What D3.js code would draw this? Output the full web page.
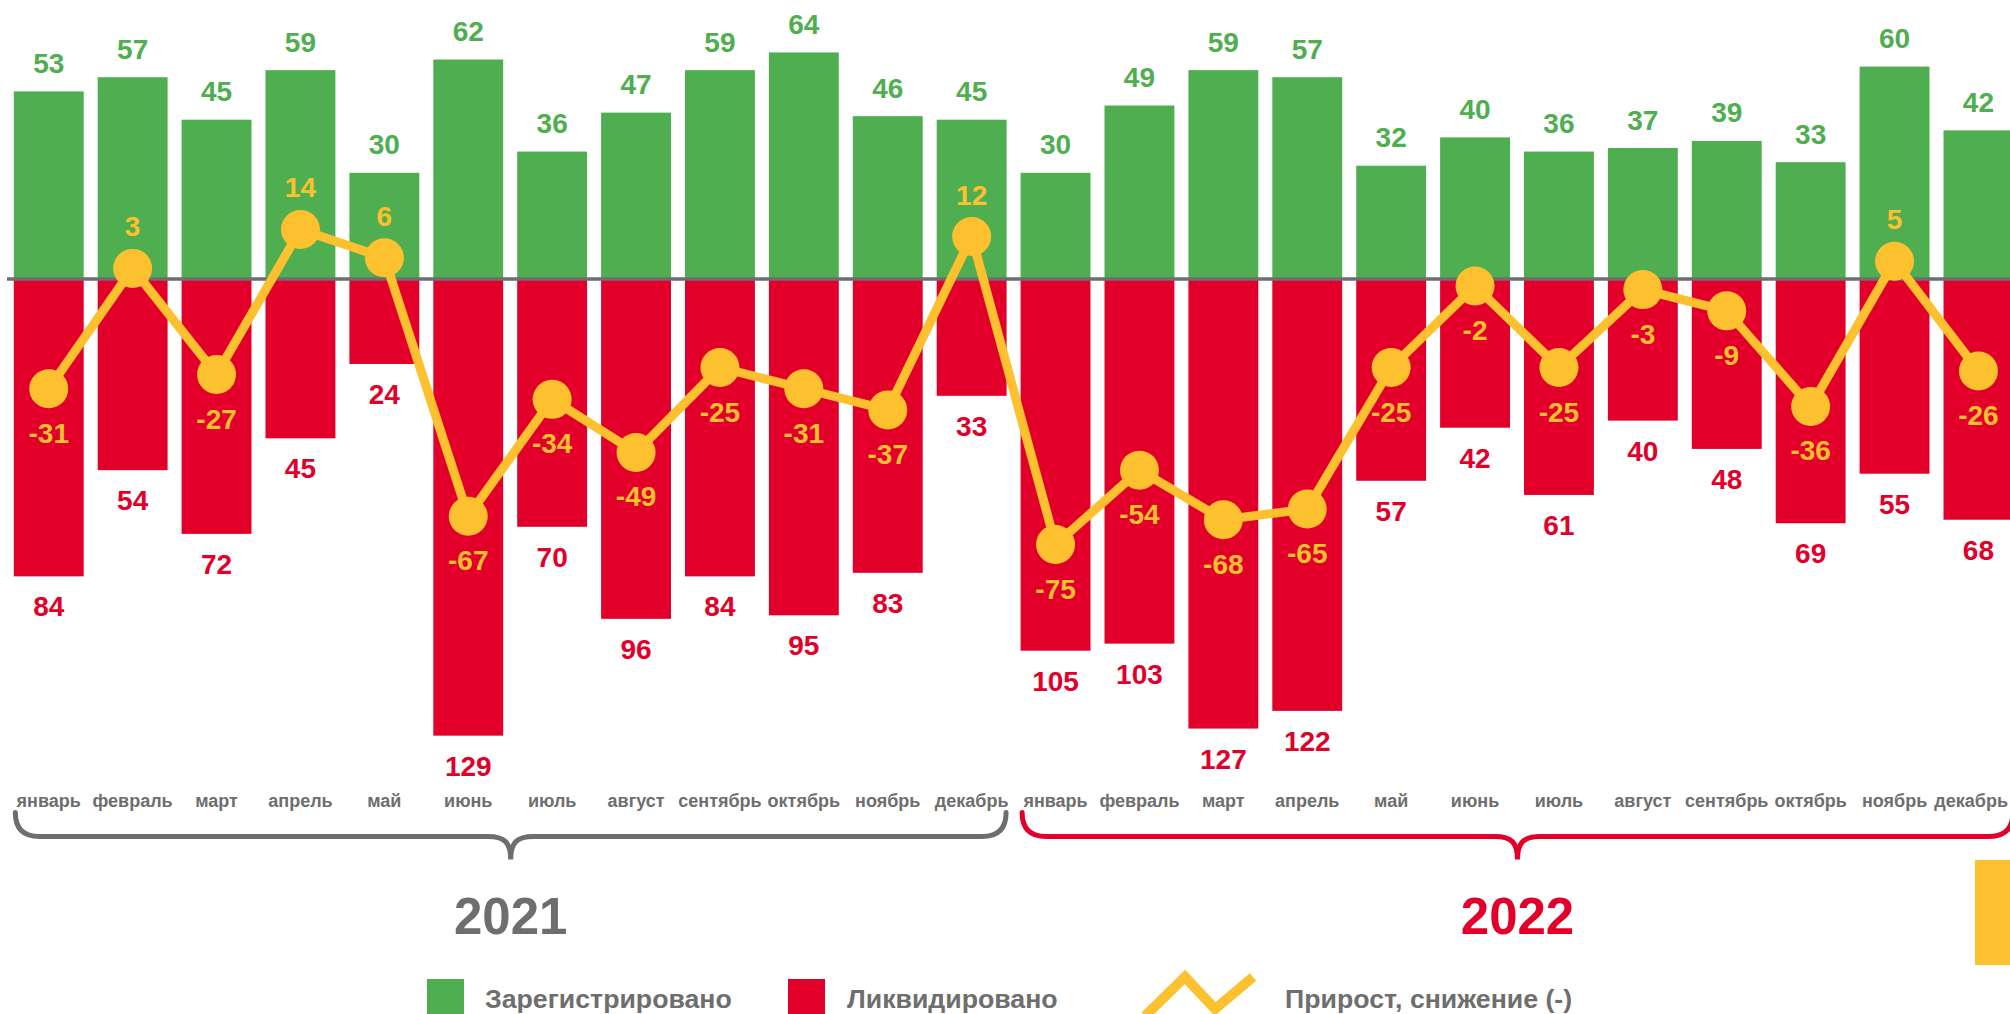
<!DOCTYPE html>
<html lang="ru">
<head>
<meta charset="utf-8">
<script src="https://cdn.jsdelivr.net/npm/d3@7"></script>
<style>
  html, body { margin: 0; padding: 0; background: #fff; overflow: hidden; }
  svg { display: block; font-family: "Liberation Sans", Arial, sans-serif; font-weight: bold; }
</style>
</head>
<body>
<div id="chart"></div>
<script>
// месяцы (две группы по 12)
const months = ["январь", "февраль", "март", "апрель", "май", "июнь",
  "июль", "август", "сентябрь", "октябрь", "ноябрь", "декабрь"];
const years = ["2021", "2022"];

// зарегистрировано
const registered2021 = [53, 57, 45, 59, 30, 62, 36, 47, 59, 64, 46, 45];
const registered2022 = [30, 49, 59, 57, 32, 40, 36, 37, 39, 33, 60, 42];
// ликвидировано
const liquidated2021 = [84, 54, 72, 45, 24, 129, 70, 96, 84, 95, 83, 33];
const liquidated2022 = [105, 103, 127, 122, 57, 42, 61, 40, 48, 69, 55, 68];
// прирост, снижение (-)
const net2021 = [-31, 3, -27, 14, 6, -67, -34, -49, -25, -31, -37, 12];
const net2022 = [-75, -54, -68, -65, -25, -2, -25, -3, -9, -36, 5, -26];

const legendLabels = ["Зарегистрировано", "Ликвидировано", "Прирост, снижение (-)"];

const green = "#4fae50";
const red = "#e2002b";
const yellow = "#fdc02e";
const grey = "#6e6e6e";

const width = 2010;
const height = 1014;

// одна таблица для всех 24 месяцев
const data = [];
years.forEach((year, yi) => {
  const reg = yi === 0 ? registered2021 : registered2022;
  const liq = yi === 0 ? liquidated2021 : liquidated2022;
  const net = yi === 0 ? net2021 : net2022;
  months.forEach((m, i) => {
    data.push({ key: year + "-" + i, year, month: m, reg: reg[i], liq: liq[i], net: net[i] });
  });
});

const svg = d3.select("#chart")
  .append("svg")
  .attr("width", width)
  .attr("height", height);

const step = 83.9;
const x = d3.scaleBand()
  .domain(data.map(d => d.key))
  .range([6.8, 6.8 + step * data.length])
  .paddingInner(0.167)
  .paddingOuter(0.0835);

const y = d3.scaleLinear()
  .domain([-130, 70])
  .range([279 + 130 * 3.54, 279 - 70 * 3.54]);

const cx = d => x(d.key) + x.bandwidth() / 2;

// столбцы
svg.append("g")
  .attr("fill", green)
  .selectAll("rect")
  .data(data)
  .join("rect")
  .attr("x", d => x(d.key))
  .attr("y", d => y(d.reg))
  .attr("width", x.bandwidth())
  .attr("height", d => y(0) - y(d.reg));

svg.append("g")
  .attr("fill", red)
  .selectAll("rect")
  .data(data)
  .join("rect")
  .attr("x", d => x(d.key))
  .attr("y", y(0))
  .attr("width", x.bandwidth())
  .attr("height", d => y(-d.liq) - y(0));

// нулевая линия
svg.append("line")
  .attr("x1", 7)
  .attr("x2", width)
  .attr("y1", y(0))
  .attr("y2", y(0))
  .attr("stroke", grey)
  .attr("stroke-width", 3.5);

// линия прироста
const line = d3.line()
  .x(cx)
  .y(d => y(d.net));

svg.append("path")
  .datum(data)
  .attr("fill", "none")
  .attr("stroke", yellow)
  .attr("stroke-width", 9)
  .attr("stroke-linejoin", "round")
  .attr("d", line);

svg.append("g")
  .attr("fill", yellow)
  .selectAll("circle")
  .data(data)
  .join("circle")
  .attr("cx", cx)
  .attr("cy", d => y(d.net))
  .attr("r", 19.5);

// подписи значений
svg.append("g")
  .attr("fill", green)
  .attr("font-size", 28)
  .attr("text-anchor", "middle")
  .selectAll("text")
  .data(data)
  .join("text")
  .attr("x", cx)
  .attr("y", d => y(d.reg) - 18.5)
  .text(d => d.reg);

svg.append("g")
  .attr("fill", red)
  .attr("font-size", 28)
  .attr("text-anchor", "middle")
  .selectAll("text")
  .data(data)
  .join("text")
  .attr("x", cx)
  .attr("y", d => y(-d.liq) + 40)
  .text(d => d.liq);

svg.append("g")
  .attr("fill", yellow)
  .attr("font-size", 28)
  .attr("text-anchor", "middle")
  .selectAll("text")
  .data(data)
  .join("text")
  .attr("x", cx)
  .attr("y", d => d.net >= 0 ? y(d.net) - 32 : y(d.net) + 54)
  .text(d => d.net);

// месяцы
const monthLabels = svg.append("g")
  .attr("fill", grey)
  .attr("font-size", 18)
  .attr("text-anchor", "middle")
  .selectAll("text")
  .data(data)
  .join("text")
  .attr("x", cx)
  .attr("y", 807)
  .text(d => d.month);

// последняя подпись не должна уходить за край
monthLabels.each(function (d) {
  const w = this.getComputedTextLength();
  const right = cx(d) + w / 2;
  if (right > width - 2) d3.select(this).attr("x", cx(d) - (right - width + 2));
});

// фигурные скобки по годам
const brace = (x1, x2, yLine, r, tip) => {
  const mid = (x1 + x2) / 2;
  return `M${x1},${yLine - r} Q${x1},${yLine} ${x1 + r},${yLine}` +
    ` L${mid - 23},${yLine} C${mid - 6},${yLine} ${mid},${yLine + 6} ${mid},${yLine + tip}` +
    ` C${mid},${yLine + 6} ${mid + 6},${yLine} ${mid + 23},${yLine}` +
    ` L${x2 - r},${yLine} Q${x2},${yLine} ${x2},${yLine - r}`;
};

const yearColors = [grey, red];
years.forEach((year, yi) => {
  const group = data.filter(d => d.year === year);
  const x1 = x(group[0].key) + 1.5;
  const x2 = x(group[group.length - 1].key) + x.bandwidth() - 0.5;
  svg.append("path")
    .attr("d", brace(x1, x2, 836.5, 24, 23))
    .attr("fill", "none")
    .attr("stroke", yearColors[yi])
    .attr("stroke-width", 5)
    .attr("stroke-linecap", "round");
  svg.append("text")
    .attr("x", (x1 + x2) / 2)
    .attr("y", 934)
    .attr("text-anchor", "middle")
    .attr("font-size", 51)
    .attr("fill", yearColors[yi])
    .text(year);
});

// жёлтый блок справа
svg.append("rect")
  .attr("x", 1975)
  .attr("y", 860)
  .attr("width", 40)
  .attr("height", 105)
  .attr("fill", yellow);

// легенда
const legend = svg.append("g").attr("font-size", 26.7).attr("fill", grey);

legend.append("rect").attr("x", 427).attr("y", 979).attr("width", 37).attr("height", 37).attr("fill", green);
legend.append("text").attr("x", 485).attr("y", 1008).text(legendLabels[0]);

legend.append("rect").attr("x", 788).attr("y", 979).attr("width", 37).attr("height", 37).attr("fill", red);
legend.append("text").attr("x", 847).attr("y", 1008).text(legendLabels[1]);

legend.append("path")
  .attr("d", "M1145,1016 L1185,977 L1215,1009 L1253,977")
  .attr("fill", "none")
  .attr("stroke", yellow)
  .attr("stroke-width", 10);
legend.append("text").attr("x", 1285).attr("y", 1008).text(legendLabels[2]);
</script>
</body>
</html>
